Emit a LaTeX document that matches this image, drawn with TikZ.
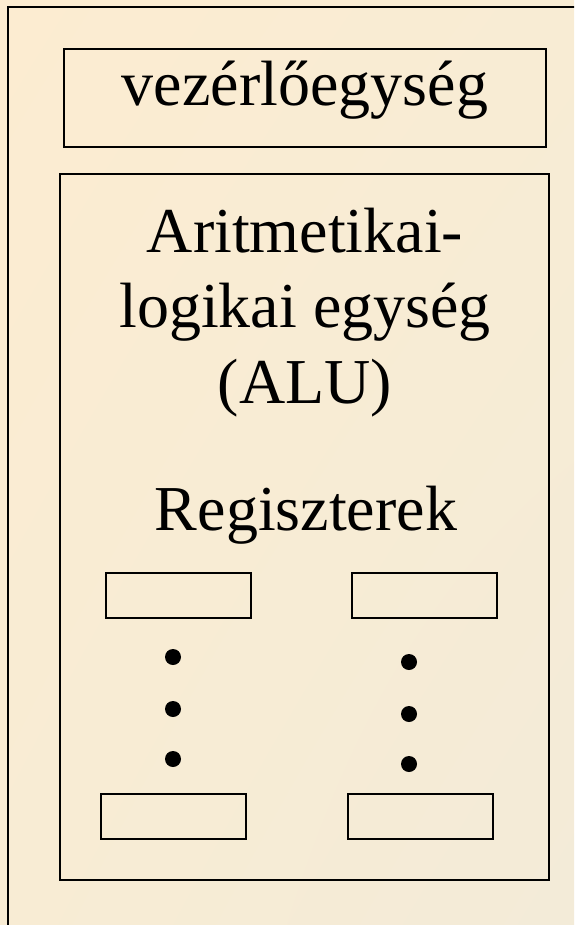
\documentclass[tikz,border=0pt]{standalone}
\usepackage{fontspec}
\setmainfont{Liberation Serif}
\usetikzlibrary{shadings}
\definecolor{bgUL}{RGB}{252,236,209}
\definecolor{bgLR}{RGB}{243,235,216}
\definecolor{bgMID}{RGB}{248,236,212}
\begin{document}
\begin{tikzpicture}[x=1pt,y=-1pt,
  frame/.style={draw=black,line width=2pt,inner sep=0pt,fill=none},
  regbox/.style={frame,minimum width=145pt,minimum height=45pt},
  dot/.style={circle,fill=black,inner sep=0pt,minimum size=16pt},
  label/.style={anchor=base,inner sep=0pt,font=\fontsize{64}{75}\selectfont}]
\useasboundingbox (0,0) rectangle (574,925);
\clip (0,0) rectangle (574,925);
\shade[upper left=bgUL,upper right=bgMID,lower left=bgMID,lower right=bgLR] (0,0) rectangle (574,925);
% outer frame (extends beyond right and bottom edges)
\node[frame,minimum width=640pt,minimum height=1000pt] (outer) at (328,507) {};
% control unit
\node[frame,minimum width=482pt,minimum height=98pt] (ctrl) at (305,98) {};
\node[label] (ctrltext) at (305,106) {vezérlőegység};
% ALU box
\node[frame,minimum width=489pt,minimum height=706pt] (alu) at (304.5,527) {};
\node[label] (t1) at (305,252) {Aritmetikai-};
\node[label] (t2) at (305,327) {logikai egység};
\node[label] (t3) at (305,403) {(ALU)};
\node[label] (t4) at (306,530) {Regiszterek};
% registers
\node[regbox] (r1) at (178,595.5) {};
\node[regbox] (r2) at (424.5,595.5) {};
\node[regbox] (r3) at (173.5,816.5) {};
\node[regbox] (r4) at (420,816.5) {};
% dots
\node[dot] (d1) at (173,657) {};
\node[dot] (d2) at (173,709) {};
\node[dot] (d3) at (173,759) {};
\node[dot] (d4) at (409,662) {};
\node[dot] (d5) at (409,714) {};
\node[dot] (d6) at (409,764) {};
\end{tikzpicture}
\end{document}
